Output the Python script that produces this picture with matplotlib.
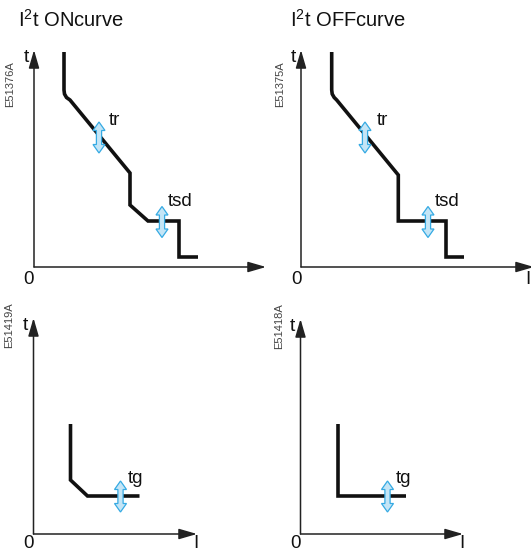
import matplotlib
matplotlib.use("Agg")
import matplotlib.pyplot as plt
from matplotlib.patches import Polygon

plt.rcParams['font.family'] = ['Liberation Sans', 'DejaVu Sans']
plt.rcParams['mathtext.fontset'] = 'custom'
plt.rcParams['mathtext.rm'] = 'Liberation Sans'

W, H = 531, 553

# panel titles and drawing codes
titles = [r"I$^2$t ONcurve", r"I$^2$t OFFcurve", "", ""]
codes = ["E51376A", "E51375A", "E51419A", "E51418A"]
show_i = [False, True, True, True]

# curves: x = current offset, y = time offset (pixel-like units from origin)
on_x = [30, 30, 30.5, 32.5, 36, 96, 96, 114, 145, 145, 164]
on_y = [215, 177, 173, 169.5, 167, 94, 62, 46, 46, 10, 10]
off_x = [30.7, 30.7, 31.2, 33.2, 35.7, 97.3, 97.3, 145, 145, 163]
off_y = [215, 177, 173, 169.5, 167, 92, 46, 46, 10, 10]
g_on_x = [37, 37, 54, 106]
g_on_y = [110, 54, 38, 38]
g_off_x = [37, 37, 105]
g_off_y = [110, 38, 38]

# adjustment arrows: (x, y, label, label dx, label dy)
arrows_on = [(65, 129.5, "tr", 10, 17), (128, 45, "tsd", 6, 20)]
arrows_off = [(64, 129.5, "tr", 12, 17), (127, 45, "tsd", 7, 20)]
arrows_g_on = [(87, 37.5, "tg", 7, 18)]
arrows_g_off = [(87, 37.5, "tg", 8, 18)]

# panel layout: origin (px from top-left), x length, y length
panels = [
    ((34, 267), 232, 217, on_x, on_y, arrows_on, (18, 27)),
    ((301, 267), 233, 217, off_x, off_y, arrows_off, (290, 27)),
    ((33.5, 534), 163.5, 216, g_on_x, g_on_y, arrows_g_on, None),
    ((300.5, 534), 162.5, 215, g_off_x, g_off_y, arrows_g_off, None),
]

fig = plt.figure(figsize=(W / 100, H / 100), dpi=100)


def fx(x):
    return x / W


def fy(y):
    return 1 - y / H


def double_arrow(ax, cx, cy):
    hw, sw, hl, hh = 6, 2.6, 8.5, 15.5
    pts = [(cx, cy + hh), (cx + hw, cy + hh - hl), (cx + sw, cy + hh - hl),
           (cx + sw, cy - hh + hl), (cx + hw, cy - hh + hl), (cx, cy - hh),
           (cx - hw, cy - hh + hl), (cx - sw, cy - hh + hl),
           (cx - sw, cy + hh - hl), (cx - hw, cy + hh - hl)]
    ax.add_patch(Polygon(pts, closed=True, facecolor="#c4e5f6",
                         edgecolor="#35aae3", lw=0.9, zorder=5, clip_on=False))


for i, ((ox, oy), xl, yl, cx, cy, arrs, tpos) in enumerate(panels):
    ax = fig.add_axes([fx(ox), fy(oy), xl / W, yl / H])
    ax.set_xlim(0, xl)
    ax.set_ylim(0, yl)
    ax.axis("off")
    akw = dict(arrowstyle="-|>,head_length=1.1,head_width=0.32",
               color="#222222", lw=1.1, mutation_scale=10, shrinkA=0, shrinkB=0)
    ax.annotate("", xy=(xl, 0), xytext=(0, 0), arrowprops=akw, annotation_clip=False)
    ax.annotate("", xy=(0, yl), xytext=(0, 0), arrowprops=akw, annotation_clip=False)
    ax.plot(cx, cy, color="#111111", lw=2.6, solid_joinstyle="miter",
            solid_capstyle="butt", clip_on=False, zorder=3)
    for (ax_x, ax_y, lab, dx, dy) in arrs:
        double_arrow(ax, ax_x, ax_y)
        ax.text(ax_x + dx, ax_y + dy, lab, fontsize=13.5, ha="left",
                va="center", color="#111111")
    # axis labels
    fig.text(fx(ox - 5), fy(oy - yl + 12), "t", fontsize=14, ha="right",
             va="baseline", color="#111111")
    ly = oy + 13 if i < 2 else oy + 10
    fig.text(fx(ox - 5), fy(ly), "0", fontsize=13.5, ha="center",
             va="center", color="#111111")
    if show_i[i]:
        ix = min(ox + xl - 1, 528)
        fig.text(fx(ix), fy(ly), "I", fontsize=13.5, ha="center",
                 va="center", color="#111111")
    fig.text(fx(ox - 24 if i % 2 == 0 else ox - 21),
             fy(oy - yl + 34 if i < 2 else oy - yl + 7),
             codes[i], fontsize=8, rotation=90, ha="center", va="center",
             color="#444444")
    if tpos:
        fig.text(fx(tpos[0]), fy(tpos[1]), titles[i], fontsize=14.5,
                 ha="left", va="baseline", color="#111111")

fig.savefig("out.png", dpi=100)
